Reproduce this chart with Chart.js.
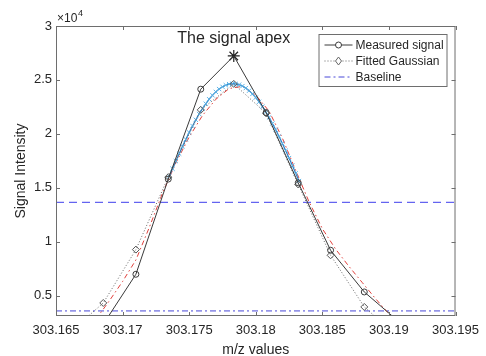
<!DOCTYPE html>
<html>
<head>
<meta charset="utf-8">
<script src="https://cdn.jsdelivr.net/npm/chart.js@4.4.1/dist/chart.umd.min.js"></script>
<style>
  html, body { margin: 0; padding: 0; background: #fff; }
  #wrap { width: 486px; height: 356px; }
</style>
</head>
<body>
<div id="wrap"><canvas id="chart"></canvas></div>
<script>
// m/z grid of the measured profile
const mz = [303.1661, 303.16855, 303.1710, 303.17343, 303.17587, 303.17835, 303.18078, 303.18319, 303.18562, 303.18815, 303.1906];
const measured = [900, 2340, 6970, 15800, 24140, 27220, 21970, 15450, 9200, 5330, 2730];
const fitted = [1650, 4310, 9260, 15980, 22220, 24630, 21900, 15300, 8730, 3940, 1250];

// dense fit around the top (blue, x markers)
const mzTop = [303.1735, 303.17375, 303.174, 303.17425, 303.1745, 303.17475, 303.175, 303.17525, 303.1755, 303.17575,
  303.176, 303.17625, 303.1765, 303.17675, 303.177, 303.17725, 303.1775, 303.17775, 303.178, 303.17825,
  303.1785, 303.17875, 303.179, 303.17925, 303.1795, 303.17975, 303.18, 303.18025, 303.1805, 303.18075,
  303.181, 303.18125, 303.1815, 303.18175, 303.182, 303.18225, 303.1825, 303.18275, 303.183, 303.18325];
const topFit = [16050, 16760, 17470, 18160, 18840, 19490, 20120, 20730, 21300, 21840,
  22340, 22790, 23210, 23570, 23890, 24150, 24360, 24510, 24610, 24650,
  24630, 24560, 24430, 24240, 24000, 23700, 23360, 22970, 22530, 22040,
  21520, 20960, 20370, 19750, 19100, 18430, 17750, 17050, 16340, 15620];

// wide fit (red dash-dot)
const mzWide = [303.168, 303.169, 303.170, 303.171, 303.172, 303.173, 303.174, 303.175, 303.176, 303.177, 303.178, 303.179,
  303.180, 303.181, 303.182, 303.183, 303.184, 303.185, 303.186, 303.187, 303.188, 303.189, 303.190, 303.191];
const wideFit = [2800, 4500, 6300, 8300, 11300, 14500, 17300, 19700, 21700, 23200, 24200, 24400,
  23600, 22100, 19600, 16600, 13700, 11200, 9300, 7700, 6200, 4700, 3300, 2000];

const apex = { mz: 303.17835, value: 27220 };
const halfMax = 13640;
const baseline = 3570;

const xRange = [303.165, 303.195];
const yRange = [3100, 30000];
const xTicks = [303.165, 303.17, 303.175, 303.18, 303.185, 303.19, 303.195];
const yTicks = [5000, 10000, 15000, 20000, 25000, 30000];

const FONT = "'Liberation Sans', Arial, Helvetica, sans-serif";
const AXIS = '#6e6e6e';
const TEXT = '#262626';

const pts = (xs, ys) => xs.map((x, i) => ({ x: x, y: ys[i] }));

// axes box with inward ticks, like matlab
const axesBox = {
  id: 'axesBox',
  afterDatasetsDraw(chart) {
    const { ctx, chartArea: a, scales: { x, y } } = chart;
    const tl = 4;
    ctx.save();
    ctx.strokeStyle = AXIS;
    ctx.lineWidth = 1;
    ctx.strokeRect(a.left + 0.5, a.top + 0.5, a.right - a.left - 1, a.bottom - a.top - 1);
    ctx.beginPath();
    xTicks.forEach(v => {
      const px = Math.round(x.getPixelForValue(v)) + 0.5;
      ctx.moveTo(px, a.bottom); ctx.lineTo(px, a.bottom - tl);
      ctx.moveTo(px, a.top); ctx.lineTo(px, a.top + tl);
    });
    yTicks.forEach(v => {
      const py = Math.round(y.getPixelForValue(v)) + 0.5;
      ctx.moveTo(a.left, py); ctx.lineTo(a.left + tl, py);
      ctx.moveTo(a.right, py); ctx.lineTo(a.right - tl, py);
    });
    ctx.stroke();

    // x10^4 exponent
    ctx.fillStyle = TEXT;
    ctx.textBaseline = 'alphabetic';
    ctx.textAlign = 'left';
    ctx.font = '12px ' + FONT;
    ctx.fillText('\u00d710', a.left + 1, a.top - 4);
    ctx.font = '9px ' + FONT;
    ctx.fillText('4', a.left + 22, a.top - 10);

    // apex annotation
    ctx.font = '16px ' + FONT;
    ctx.textAlign = 'center';
    ctx.fillText('The signal apex', x.getPixelForValue(apex.mz), y.getPixelForValue(28400));
    ctx.restore();
  }
};

const legendBox = {
  id: 'legendBox',
  afterDraw(chart) {
    const { ctx, chartArea: a } = chart;
    const w = 128, h = 52;
    const x0 = a.right - 9 - w, y0 = a.top + 8;
    ctx.save();
    ctx.fillStyle = '#fff';
    ctx.fillRect(x0, y0, w, h);
    ctx.strokeStyle = AXIS;
    ctx.lineWidth = 1;
    ctx.strokeRect(x0 + 0.5, y0 + 0.5, w, h);

    const items = [
      { label: 'Measured signal', color: '#3a3a3a', dash: [], marker: 'circle' },
      { label: 'Fitted Gaussian', color: '#666', dash: [1, 2], marker: 'diamond' },
      { label: 'Baseline', color: '#4848d8', dash: [6, 3, 2, 3], marker: null }
    ];
    items.forEach((it, i) => {
      const cy = y0 + 11 + i * 16;
      const lx0 = x0 + 6, lx1 = x0 + 34, mx = (lx0 + lx1) / 2;
      ctx.strokeStyle = it.color;
      ctx.setLineDash(it.dash);
      ctx.beginPath();
      ctx.moveTo(lx0, cy); ctx.lineTo(lx1, cy);
      ctx.stroke();
      ctx.setLineDash([]);
      if (it.marker === 'circle') {
        ctx.fillStyle = '#fff';
        ctx.beginPath(); ctx.arc(mx, cy, 3, 0, Math.PI * 2); ctx.fill(); ctx.stroke();
      } else if (it.marker === 'diamond') {
        ctx.fillStyle = '#fff';
        ctx.beginPath();
        ctx.moveTo(mx, cy - 4); ctx.lineTo(mx + 3, cy); ctx.lineTo(mx, cy + 4); ctx.lineTo(mx - 3, cy);
        ctx.closePath(); ctx.fill(); ctx.stroke();
      }
      ctx.fillStyle = TEXT;
      ctx.font = '12px ' + FONT;
      ctx.textAlign = 'left';
      ctx.textBaseline = 'middle';
      ctx.fillText(it.label, x0 + 37, cy + 1);
    });
    ctx.restore();
  }
};

new Chart(document.getElementById('chart'), {
  type: 'scatter',
  data: {
    datasets: [
      {
        label: 'Measured signal',
        data: pts(mz, measured),
        showLine: true,
        borderColor: '#3a3a3a',
        borderWidth: 1,
        pointStyle: 'circle',
        pointRadius: mz.map(v => v === apex.mz ? 0 : 3),
        pointBorderColor: '#3a3a3a',
        pointBackgroundColor: 'rgba(0,0,0,0)',
        pointBorderWidth: 1,
        order: 0
      },
      {
        label: 'apex',
        data: [{ x: apex.mz, y: apex.value }],
        pointStyle: 'star',
        pointRadius: 6,
        pointBorderColor: '#222',
        pointBorderWidth: 1.2,
        order: 0
      },
      {
        label: 'Fitted Gaussian',
        data: pts(mz, fitted),
        showLine: true,
        borderColor: '#666',
        borderWidth: 1,
        borderDash: [1, 2],
        pointStyle: 'rectRot',
        pointRadius: 3.5,
        pointBorderColor: '#555',
        pointBackgroundColor: 'rgba(0,0,0,0)',
        pointBorderWidth: 1,
        order: 1
      },
      {
        label: 'top fit',
        data: pts(mzTop, topFit),
        showLine: true,
        borderColor: '#2f7fc4',
        borderWidth: 1.2,
        pointStyle: 'crossRot',
        pointRadius: 3,
        pointBorderColor: '#5cb3e6',
        pointBorderWidth: 1,
        order: 2
      },
      {
        label: 'wide fit',
        data: pts(mzWide, wideFit),
        showLine: true,
        borderColor: '#e0403c',
        borderWidth: 1,
        borderDash: [5, 3, 1.5, 3],
        pointRadius: 0,
        order: 3
      },
      {
        label: 'half max',
        data: pts(xRange, [halfMax, halfMax]),
        showLine: true,
        borderColor: '#6464f0',
        borderWidth: 1.2,
        borderDash: [8, 5],
        pointRadius: 0,
        order: 4
      },
      {
        label: 'Baseline',
        data: pts(xRange, [baseline, baseline]),
        showLine: true,
        borderColor: '#4848d8',
        borderWidth: 1,
        borderDash: [6, 3, 2, 3],
        pointRadius: 0,
        order: 4
      }
    ]
  },
  options: {
    responsive: true,
    maintainAspectRatio: false,
    animation: false,
    devicePixelRatio: 1,
    layout: { padding: { top: 26, right: 27, left: 0, bottom: 0 } },
    plugins: {
      legend: { display: false },
      tooltip: { enabled: false },
      title: { display: false }
    },
    scales: {
      x: {
        type: 'linear',
        min: xRange[0],
        max: xRange[1],
        afterBuildTicks: s => { s.ticks = xTicks.map(v => ({ value: v })); },
        afterFit: s => { s.height = 40; },
        grid: { display: false, drawTicks: false },
        border: { display: false },
        ticks: {
          autoSkip: false,
          maxRotation: 0,
          padding: 7,
          color: TEXT,
          font: { family: FONT, size: 13 },
          callback: v => String(+v.toFixed(3))
        },
        title: {
          display: true,
          text: 'm/z values',
          color: TEXT,
          font: { family: FONT, size: 14, lineHeight: 0.86 },
          padding: 0
        }
      },
      y: {
        type: 'linear',
        min: yRange[0],
        max: yRange[1],
        afterBuildTicks: s => { s.ticks = yTicks.map(v => ({ value: v })); },
        afterFit: s => { s.width = 56; },
        grid: { display: false, drawTicks: false },
        border: { display: false },
        ticks: {
          padding: 4,
          color: TEXT,
          font: { family: FONT, size: 13 },
          callback: v => String(v / 1e4)
        },
        title: {
          display: true,
          text: 'Signal Intensity',
          color: TEXT,
          font: { family: FONT, size: 14 },
          padding: { top: 13, bottom: 0 }
        }
      }
    }
  },
  plugins: [axesBox, legendBox]
});
</script>
</body>
</html>
